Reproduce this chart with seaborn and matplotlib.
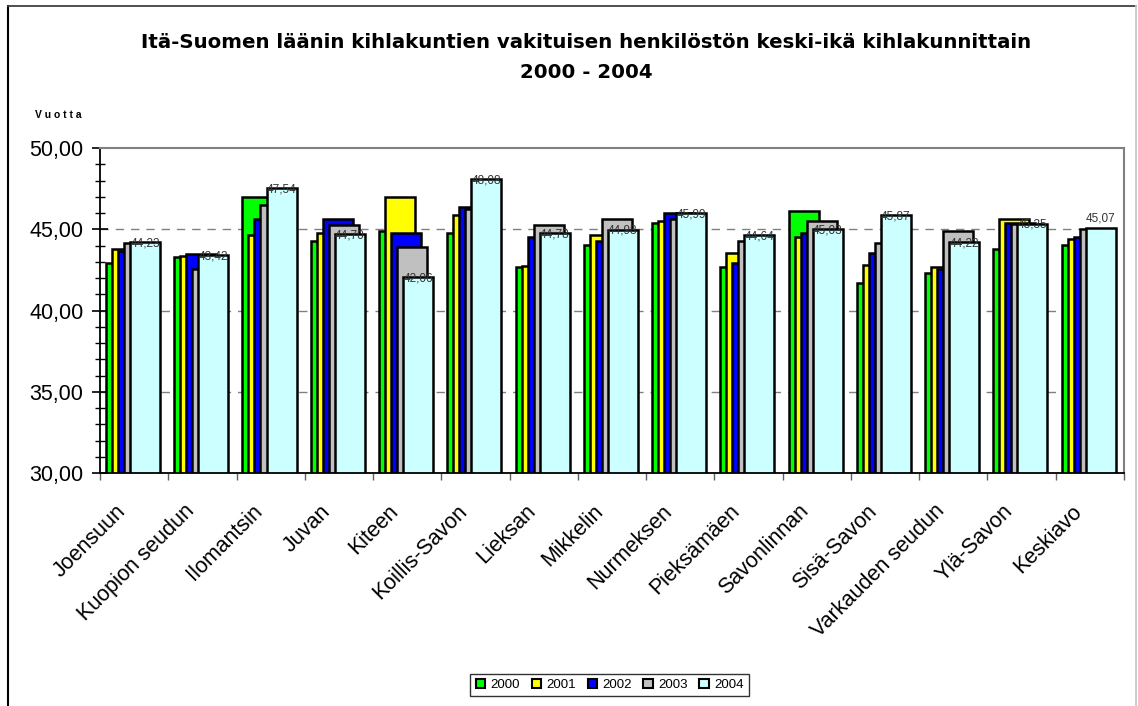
import numpy as np
import pandas as pd
import matplotlib
matplotlib.use("Agg")
import matplotlib.pyplot as plt
import matplotlib.transforms as mtrans
import seaborn as sns
from matplotlib.patches import Patch
from matplotlib.lines import Line2D

# Data
districts = ["Joensuun", "Kuopion seudun", "Ilomantsin", "Juvan", "Kiteen",
             "Koillis-Savon", "Lieksan", "Mikkelin", "Nurmeksen", "Pieksämäen",
             "Savonlinnan", "Sisä-Savon", "Varkauden seudun", "Ylä-Savon", "Keskiavo"]
years = ["2000", "2001", "2002", "2003", "2004"]
age_2000 = [42.94, 43.31, 47.00, 44.30, 44.91, 44.79, 42.70, 44.05, 45.40, 42.70, 46.14, 41.71, 42.33, 43.80, 44.05]
age_2001 = [43.80, 43.33, 44.67, 44.79, 47.00, 45.90, 42.72, 44.67, 45.53, 43.56, 44.54, 42.82, 42.70, 45.65, 44.42]
age_2002 = [43.64, 43.46, 45.65, 45.65, 44.75, 46.39, 44.54, 44.30, 46.02, 42.94, 44.79, 43.56, 42.57, 45.40, 44.54]
age_2003 = [44.17, 42.57, 46.51, 45.28, 43.93, 46.27, 45.28, 45.65, 45.65, 44.30, 45.53, 44.17, 44.91, 45.35, 45.03]
age_2004 = [44.23, 43.42, 47.54, 44.70, 42.06, 48.08, 44.78, 44.98, 45.99, 44.64, 45.03, 45.87, 44.22, 45.35, 45.07]
colors = ["#00ff00", "#ffff00", "#0000ff", "#c0c0c0", "#ccffff"]

series = [age_2000, age_2001, age_2002, age_2003, age_2004]
rows = []
for yi, (yr, vals) in enumerate(zip(years, series)):
    for ci, v in enumerate(vals):
        rows.append({"district": districts[ci], "pos": ci, "year": yr, "yi": yi, "age": v})
df = pd.DataFrame(rows)

plt.rcParams["font.family"] = ["Liberation Sans", "DejaVu Sans"]

fig = plt.figure(figsize=(11.38, 7.06), dpi=100)
ax = fig.add_axes([100 / 1138, 1 - 473 / 706, 1024 / 1138, 325 / 706])

# overlapping bars, each year shifted a bit right and drawn on top of the previous one
bar_w = 0.44
step = 0.088
for yi, yr in enumerate(years):
    sub = df[df["year"] == yr].copy()
    sub["x"] = sub["pos"] + (yi - 2) * step - 0.017
    sns.barplot(data=sub, x="x", y="age", native_scale=True, width=bar_w,
                color=colors[yi], saturation=1, edgecolor="black", linewidth=1.8,
                ax=ax, errorbar=None)

# labels on the 2004 bars
for ci, v in enumerate(age_2004):
    x = ci + 2 * step - 0.017
    y = v + (0.6 if ci == len(age_2004) - 1 else -0.08)
    ax.text(x, y, f"{v:.2f}".replace(".", ","), ha="center", va="center",
            fontsize=8.5, color="#333333", zorder=10)

ax.set_xlim(-0.5, len(districts) - 0.5)
ax.set_ylim(30, 50)
ax.set_axisbelow(True)

yt = np.arange(30, 51, 5)
ax.set_yticks(yt)
ax.set_yticklabels([f"{t:.2f}".replace(".", ",") for t in yt], fontsize=15.5)
ax.set_yticks(np.arange(30, 51, 1), minor=True)
ax.tick_params(axis="y", which="major", direction="inout", length=12, width=1.2, pad=6)
ax.tick_params(axis="y", which="minor", direction="inout", length=7, width=1)
for g in [35, 40, 45]:
    ax.axhline(g, color="#808080", lw=1, ls=(0, (6, 5)), zorder=0)

ax.set_xticks(np.arange(len(districts)))
ax.set_xticklabels(districts, rotation=45, ha="right", rotation_mode="anchor", fontsize=15.5)
ax.set_xticks(np.arange(-0.5, len(districts), 1), minor=True)
ax.tick_params(axis="x", which="major", length=0, pad=20)
ax.tick_params(axis="x", which="minor", direction="out", length=5, width=1, color="#606060")
shift = mtrans.ScaledTranslation(-19 / 100, 0, fig.dpi_scale_trans)
for lbl in ax.get_xticklabels():
    lbl.set_transform(lbl.get_transform() + shift)
ax.set_xlabel("")
ax.set_ylabel("")

ax.spines["left"].set_color("black")
ax.spines["left"].set_linewidth(1.3)
ax.spines["bottom"].set_color("black")
ax.spines["bottom"].set_linewidth(1.3)
ax.spines["top"].set_color("#808080")
ax.spines["top"].set_linewidth(1.5)
ax.spines["right"].set_color("#808080")
ax.spines["right"].set_linewidth(1.5)

title_font = ["DejaVu Sans"]
fig.text(0.515, 1 - 43 / 706, "Itä-Suomen läänin kihlakuntien vakituisen henkilöstön keski-ikä kihlakunnittain",
         ha="center", va="center", fontsize=14.2, fontweight="bold", family=title_font)
fig.text(0.515, 1 - 72 / 706, "2000 - 2004", ha="center", va="center", fontsize=14.2,
         fontweight="bold", family=title_font)
fig.text(35 / 1138, 1 - 115 / 706, "V u o t t a", ha="left", va="center", fontsize=7.5, fontweight="bold")

handles = [Patch(facecolor=c, edgecolor="black", linewidth=1.5, label=y) for c, y in zip(colors, years)]
leg = fig.legend(handles=handles, loc="center", bbox_to_anchor=(609.5 / 1138, 1 - 685 / 706),
                 ncol=5, fontsize=9.5, frameon=True, fancybox=False, handlelength=0.7,
                 handleheight=0.7, handletextpad=0.4, columnspacing=0.9, borderpad=0.4)
leg.get_frame().set_edgecolor("black")
leg.get_frame().set_linewidth(1)

# frame around the whole chart
fig.add_artist(Line2D([8 / 1138, 8 / 1138], [0, 1 - 6 / 706], color="black", lw=1.5))
fig.add_artist(Line2D([8 / 1138, 1136 / 1138], [1 - 6 / 706, 1 - 6 / 706], color="#404040", lw=1.3))
fig.add_artist(Line2D([1136 / 1138, 1136 / 1138], [0, 1 - 6 / 706], color="#c8c8c8", lw=1.3))

fig.savefig("out.png", dpi=100)
